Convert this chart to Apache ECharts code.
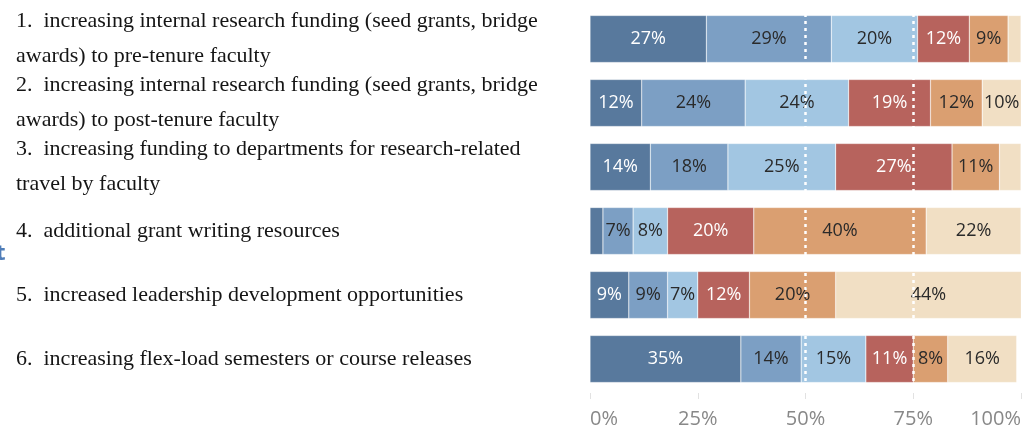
<!DOCTYPE html>
<html>
<head>
<meta charset="utf-8">
<script src="https://cdn.jsdelivr.net/npm/echarts@6/dist/echarts.min.js"></script>
<style>
html,body{margin:0;padding:0;background:#fff;}
#chart{width:1026px;height:429px;}
</style>
</head>
<body>
<div id="chart"></div>
<script>
var categories = [
  "1.  increasing internal research funding (seed grants, bridge\nawards) to pre-tenure faculty",
  "2.  increasing internal research funding (seed grants, bridge\nawards) to post-tenure faculty",
  "3.  increasing funding to departments for research-related\ntravel by faculty",
  "4.  additional grant writing resources",
  "5.  increased leadership development opportunities",
  "6.  increasing flex-load semesters or course releases"
];
var seg1 = [27, 12, 14, 3, 9, 35];
var seg2 = [29, 24, 18, 7, 9, 14];
var seg3 = [20, 24, 25, 8, 7, 15];
var seg4 = [12, 19, 27, 20, 12, 11];
var seg5 = [9, 12, 11, 40, 20, 8];
var seg6 = [3, 10, 5, 22, 44, 16];
var tickValues = [0, 25, 50, 75, 100];
var refLines = [50, 75];

var segColors = ['#58799d', '#7c9fc4', '#a2c6e2', '#b7635d', '#da9f71', '#f1dfc4'];
var labelColors = ['#ffffff', '#2a2a2a', '#2a2a2a', '#ffffff', '#2a2a2a', '#2a2a2a'];
var segs = [seg1, seg2, seg3, seg4, seg5, seg6];

var chart = echarts.init(document.getElementById('chart'), null, {renderer: 'canvas'});

var series = segs.map(function (d, i) {
  return {
    type: 'bar',
    stack: 'total',
    data: d,
    barWidth: 47,
    itemStyle: {color: segColors[i], borderColor: 'rgba(255,255,255,0.35)', borderWidth: 0.6},
    label: {
      show: true,
      position: 'inside',
      fontFamily: 'Open Sans',
      fontSize: 18,
      color: labelColors[i],
      formatter: function (p) { return p.value < 6 ? '' : p.value + '%'; }
    },
    emphasis: {disabled: true}
  };
});

series.push({
  type: 'line',
  data: [],
  z: 10,
  markLine: {
    silent: true,
    symbol: ['none', 'none'],
    label: {show: false},
    lineStyle: {color: '#ffffff', width: 2.5, type: [3, 4]},
    data: refLines.map(function (v) { return {xAxis: v}; })
  }
});

chart.setOption({
  animation: false,
  backgroundColor: '#ffffff',
  grid: {left: 590, right: 5, top: 7, bottom: 38, containLabel: false},
  xAxis: {
    type: 'value',
    min: 0,
    max: 100,
    interval: 25,
    offset: 2,
    axisLine: {show: false},
    axisTick: {show: true, length: 6, lineStyle: {color: '#e2e2e2', width: 1}},
    splitLine: {show: false},
    axisLabel: {
      formatter: function (v) { return tickValues.indexOf(v) >= 0 ? v + '%' : ''; },
      fontFamily: 'Open Sans',
      fontSize: 20,
      color: '#888888',
      margin: 16,
      alignMinLabel: 'left',
      alignMaxLabel: 'right'
    }
  },
  yAxis: {
    type: 'category',
    inverse: true,
    data: categories,
    axisLine: {show: false},
    axisTick: {show: false},
    axisLabel: {
      interval: 0,
      hideOverlap: false,
      align: 'left',
      margin: 574,
      fontFamily: 'Liberation Serif',
      fontSize: 22,
      lineHeight: 35,
      color: '#151515'
    }
  },
  graphic: [{
    type: 'text',
    left: -4,
    top: 243,
    style: {text: 't', fontFamily: 'Open Sans', fontWeight: 'bold', fontSize: 22, fill: '#4f7db8'}
  }],
  series: series
});
</script>
</body>
</html>
